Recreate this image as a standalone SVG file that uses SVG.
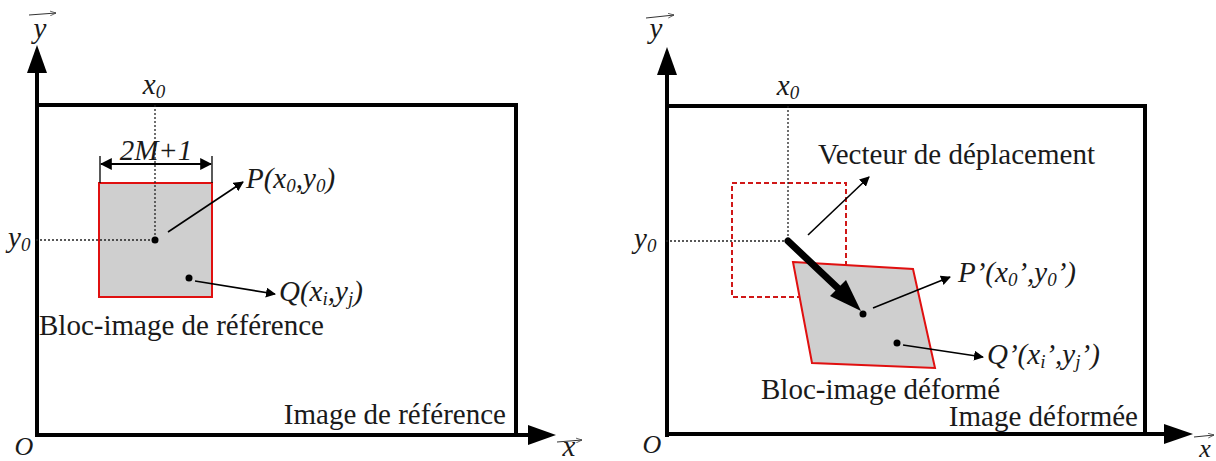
<svg xmlns="http://www.w3.org/2000/svg" width="1216" height="461" viewBox="0 0 1216 461">
<defs>
<style>
text{font-family:'Liberation Serif','DejaVu Serif',serif;font-size:29px;fill:#1a1a1a}
.i{font-style:italic}
.s{font-size:19px}
.ax{font-size:26px}
.frame{fill:none;stroke:#000;stroke-width:4}
.dot{stroke:#222;stroke-width:1.3;stroke-dasharray:2 2;fill:none}
.thin{stroke:#000;stroke-width:1.6;fill:none}
.blk{fill:#cfcfcf;stroke:#e01010;stroke-width:2}
.vec{stroke:#333;stroke-width:1;fill:none}
</style>
<marker id="ah" viewBox="0 0 10 10" refX="9" refY="5" markerWidth="10" markerHeight="10" markerUnits="userSpaceOnUse" orient="auto"><path d="M0,0 L10,5 L0,10 Z" fill="#000"/></marker>
<marker id="ah2" viewBox="0 0 10 10" refX="9" refY="5" markerWidth="12" markerHeight="12" markerUnits="userSpaceOnUse" orient="auto-start-reverse"><path d="M0,0 L10,5 L0,10 Z" fill="#000"/></marker>
<marker id="ao" viewBox="0 0 10 10" refX="10" refY="5" markerWidth="6" markerHeight="6" markerUnits="userSpaceOnUse" orient="auto"><path d="M0,1 L10,5 L0,9" fill="none" stroke="#333" stroke-width="1.2"/></marker>
</defs>

<g id="left-panel" font-family="Liberation Serif, serif">
  <g id="left-axes">
    <line x1="37" y1="437" x2="37" y2="72" stroke="#000" stroke-width="4"/>
    <polygon points="37,45 27,73 47,73" fill="#000"/>
    <line x1="35" y1="435" x2="530" y2="435" stroke="#000" stroke-width="4"/>
    <polygon points="556,435 528,425 528,445" fill="#000"/>
    <polyline class="frame" points="37,105 516,105 516,435"/>
    <text class="i ax" x="24" y="455" text-anchor="middle">O</text>
    <text class="i" x="40" y="38" text-anchor="middle">y</text>
    <line class="vec" x1="29" y1="15" x2="56" y2="13" marker-end="url(#ao)"/>
    <text class="i" x="569" y="456" text-anchor="middle" font-size="25">x</text>
    <line class="vec" x1="557" y1="442" x2="582" y2="440" marker-end="url(#ao)"/>
    <text x="506" y="424" text-anchor="end">Image de référence</text>
  </g>
  <g id="left-block">
    <rect class="blk" x="99" y="183" width="113" height="114"/>
    <line class="dot" x1="155" y1="105" x2="155" y2="240"/>
    <line class="dot" x1="36" y1="240" x2="155" y2="240"/>
    <text class="i" x="154" y="94" text-anchor="middle">x<tspan class="s" dy="4">0</tspan></text>
    <text class="i" x="8" y="247">y<tspan class="s" dy="4">0</tspan></text>
    <line x1="100" y1="156" x2="100" y2="183" stroke="#000" stroke-width="1.3"/>
    <line x1="212" y1="156" x2="212" y2="183" stroke="#000" stroke-width="1.3"/>
    <line x1="101" y1="164" x2="211" y2="164" stroke="#000" stroke-width="2" marker-start="url(#ah2)" marker-end="url(#ah2)"/>
    <text class="i" x="156" y="160" text-anchor="middle">2M+1</text>
    <circle cx="155" cy="240" r="3.5" fill="#000"/>
    <circle cx="189" cy="278" r="3.5" fill="#000"/>
  </g>
  <g id="left-connectors">
    <line class="thin" x1="168" y1="232" x2="243" y2="182" marker-end="url(#ah)"/>
    <line class="thin" x1="195" y1="281" x2="275" y2="294" marker-end="url(#ah)"/>
  </g>
  <g id="left-labels">
    <text class="i" x="246" y="188">P(x<tspan class="s" dy="4">0</tspan><tspan dy="-4">,y</tspan><tspan class="s" dy="4">0</tspan><tspan dy="-4">)</tspan></text>
    <text class="i" x="279" y="301">Q(x<tspan class="s" dy="4">i</tspan><tspan dy="-4">,y</tspan><tspan class="s" dy="4">j</tspan><tspan dy="-4">)</tspan></text>
    <text x="39" y="335">Bloc-image de référence</text>
  </g>
</g>

<g id="right-panel" font-family="Liberation Serif, serif">
  <g id="right-axes">
    <line x1="667" y1="437" x2="667" y2="74" stroke="#000" stroke-width="4"/>
    <polygon points="667,47 657,75 677,75" fill="#000"/>
    <line x1="665" y1="434" x2="1165" y2="434" stroke="#000" stroke-width="4"/>
    <polygon points="1193,434 1164,424 1164,444" fill="#000"/>
    <polyline class="frame" points="667,106 1145,106 1145,434"/>
    <text class="i ax" x="652" y="453" text-anchor="middle">O</text>
    <text class="i" x="656" y="38" text-anchor="middle">y</text>
    <line class="vec" x1="646" y1="18" x2="674" y2="15" marker-end="url(#ao)"/>
    <text class="i ax" x="1205" y="457" text-anchor="middle">x</text>
    <line class="vec" x1="1194" y1="437" x2="1214" y2="435" marker-end="url(#ao)"/>
    <text x="1138" y="426" text-anchor="end">Image déformée</text>
  </g>
  <g id="right-ref-block">
    <rect x="732" y="183" width="114" height="114" fill="none" stroke="#d01818" stroke-width="2" stroke-dasharray="5 3"/>
    <line class="dot" x1="788" y1="106" x2="788" y2="241"/>
    <line class="dot" x1="666" y1="241" x2="788" y2="241"/>
    <text class="i" x="788" y="95" text-anchor="middle">x<tspan class="s" dy="4">0</tspan></text>
    <text class="i" x="634" y="248">y<tspan class="s" dy="4">0</tspan></text>
  </g>
  <g id="right-deformed-block">
    <polygon class="blk" points="793,262 913,269 935,368 812,363"/>
    <circle cx="863" cy="314" r="3.5" fill="#000"/>
    <circle cx="897" cy="343" r="3.5" fill="#000"/>
  </g>
  <g id="right-connectors">
    <line x1="788" y1="241" x2="842" y2="292" stroke="#000" stroke-width="7" stroke-linecap="round"/>
    <polygon points="861,311 830,296 846,280" fill="#000"/>
    <line class="thin" x1="808" y1="235" x2="869" y2="177" marker-end="url(#ah)"/>
    <line class="thin" x1="873" y1="308" x2="950" y2="277" marker-end="url(#ah)"/>
    <line class="thin" x1="903" y1="345" x2="983" y2="357" marker-end="url(#ah)"/>
  </g>
  <g id="right-labels">
    <text x="818" y="164">Vecteur de déplacement</text>
    <text class="i" x="958" y="282">P’(x<tspan class="s" dy="4">0</tspan><tspan dy="-4">’,y</tspan><tspan class="s" dy="4">0</tspan><tspan dy="-4">’)</tspan></text>
    <text class="i" x="987" y="364">Q’(x<tspan class="s" dy="4">i</tspan><tspan dy="-4">’,y</tspan><tspan class="s" dy="4">j</tspan><tspan dy="-4">’)</tspan></text>
    <text x="761" y="399">Bloc-image déformé</text>
  </g>
</g>
</svg>
